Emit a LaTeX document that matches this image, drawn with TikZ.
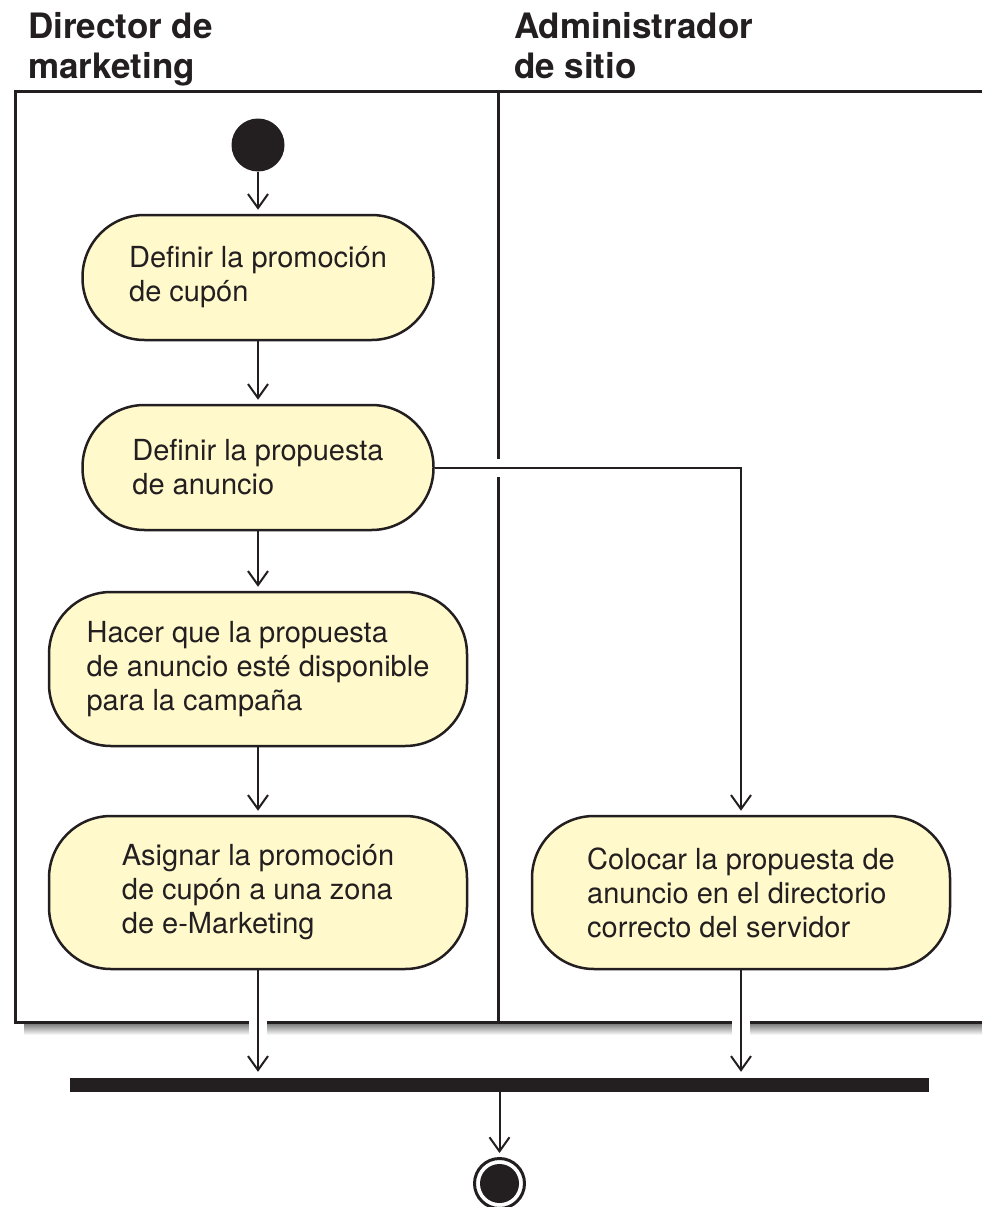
\documentclass[tikz,border=0pt]{standalone}
\usepackage{fontspec}
\setmainfont{TeX Gyre Heros}
\usetikzlibrary{arrows.meta}
\definecolor{ink}{RGB}{35,31,32}
\definecolor{actfill}{RGB}{255,249,204}
\definecolor{shade}{RGB}{230,231,232}
\pgfdeclarelayer{back}
\pgfdeclarelayer{wires}
\pgfsetlayers{back,wires,main}
\begin{document}
\begin{tikzpicture}[x=1pt, y=-1pt, line join=round, >={Straight Barb[length=14pt,width=20pt]},
	act/.style={draw=ink, line width=2.5pt, fill=actfill, rounded corners=62pt, align=left, inner sep=0pt, text=ink, font=\fontsize{29}{34}\selectfont},
	flow/.style={->, draw=ink, line width=2pt, shorten >=4pt, preaction={draw=white, line width=18pt, -}},
	lane/.style={draw=ink, line width=3pt, line join=miter},
	head/.style={anchor=north west, align=left, inner sep=0pt, text=ink, font=\fontsize{35}{40}\selectfont\bfseries}]
	\useasboundingbox (0,0) rectangle (982,1207);
	\node[head] (hdir) at (28,12) {Director de\\marketing};
	\node[head] (hadm) at (514,12) {Administrador\\de sitio};
	\node[circle, fill=ink, minimum size=53pt, inner sep=0pt] (start) at (258,145) {};
	\node[act, minimum width=351pt, minimum height=125pt] (a1) at (258,277.5) {Definir la promoción\\de cupón};
	\node[act, minimum width=351pt, minimum height=125pt] (a2) at (258,467.5) {Definir la propuesta\\de anuncio};
	\node[act, minimum width=418pt, minimum height=154pt] (a3) at (258,669) {Hacer que la propuesta\\de anuncio esté disponible\\para la campaña};
	\node[act, minimum width=418pt, minimum height=153pt] (a4) at (258,892.5) {Asignar la promoción\\de cupón a una zona\\de e-Marketing};
	\node[act, minimum width=418pt, minimum height=153pt] (a5) at (741,892.5) {Colocar la propuesta de\\anuncio en el directorio\\correcto del servidor};
	\node[fill=ink, minimum width=859pt, minimum height=14pt, inner sep=0pt] (fork) at (499.5,1085) {};
	\node[circle, draw=ink, line width=3pt, fill=white, minimum size=50pt, inner sep=0pt,
		path picture={\fill[ink] (path picture bounding box.center) circle[radius=19.5pt];}] (stop) at (499.5,1183.5) {};
	\begin{pgfonlayer}{back}
		\fill[shade] (24,1024) rectangle (982,1035);
		\draw[lane] (982,91) -- (15,91) -- (15,1022) -- (982,1022) (498,91) -- (498,1022);
	\end{pgfonlayer}
	\begin{pgfonlayer}{wires}
		\draw[flow] (start) -- (a1);
		\draw[flow] (a1) -- (a2);
		\draw[flow] (a2) -- (a3);
		\draw[flow] (a3) -- (a4);
		\draw[flow] (a2) -| (a5);
		\draw[flow, shorten >=6pt] (a4) -- (a4 |- fork.north);
		\draw[flow, shorten >=6pt] (a5) -- (a5 |- fork.north);
		\draw[flow] (fork) -- (stop);
	\end{pgfonlayer}
\end{tikzpicture}
\end{document}
